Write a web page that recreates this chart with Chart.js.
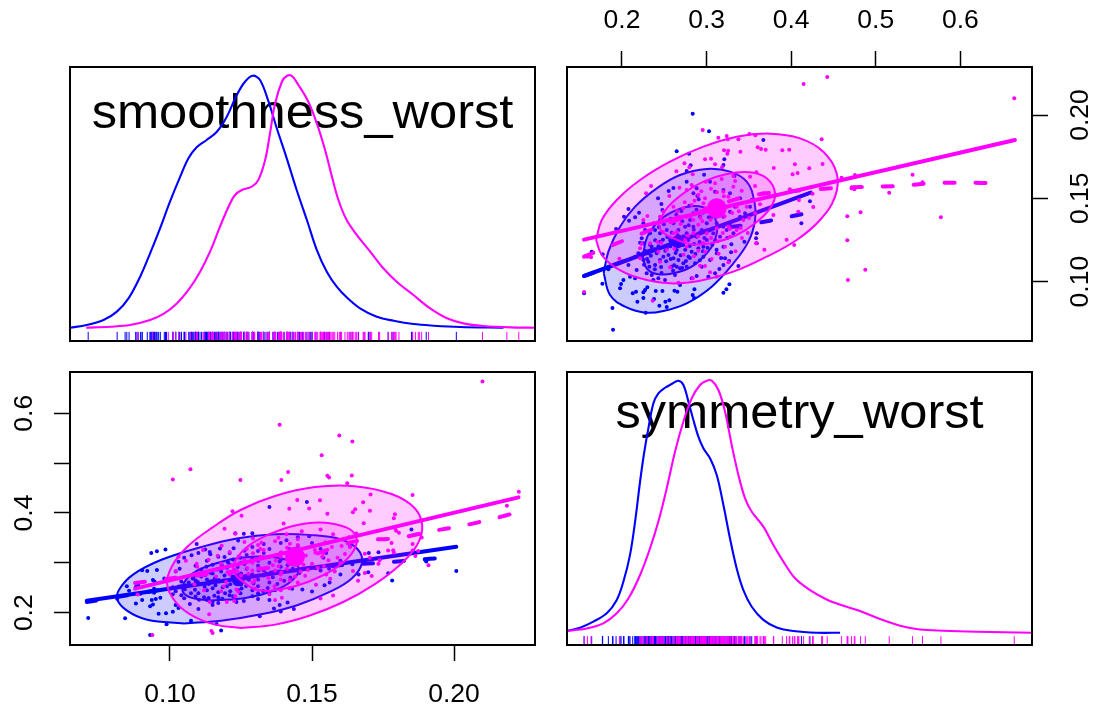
<!DOCTYPE html>
<html>
<head>
<meta charset="utf-8">
<style>
  html, body { margin: 0; background: #fff; }
  canvas { position: absolute; left: 0; top: 0; }
</style>
<script src="https://cdn.jsdelivr.net/npm/chart.js@4"></script>
</head>
<body>
<canvas id="panelTL" width="1094" height="709"></canvas>
<canvas id="panelTR" width="1094" height="709"></canvas>
<canvas id="panelBL" width="1094" height="709"></canvas>
<canvas id="panelBR" width="1094" height="709"></canvas>
<script>
// tick values
const smoothTicks = [0.10, 0.15, 0.20];
const symTicks = [0.2, 0.3, 0.4, 0.5, 0.6];
const symLeftLabelled = [0.2, 0.4, 0.6];

// observations, group 1 (blue)
const blueSym = [.2836,.3029,.3671,.2647,.2793,.321,.3199,.2812,.2765,.297,.3329,.2765,.2608,.2552,.2426,.2076,.2202,.2024,.2084,.193,.2253,.2155,.2466,.2478,.2844,.2891,.2907,.1642,.1772,.1839,.1768,.1552,.2017,.1989,.1977,.2166,.2127,.23,.2273,.2253,.2399,.2478,.262,.2655,.2856,.2836,.2182,.2253,.2379,.2442,.2529,.2513,.256,.2852,.3199,.327,.3234,.1887,.1894,.228,.3376,.3593,.3585,.3593,.3447,.3293,.3289,.3218,.3199,.3151,.3266,.4121,.4222,
  .2253,.2233,.2214,.2312,.2352,.245,.2529,.2549,.2608,.2667,.245,.2391,.2324,.2292,.2352,.243,.2509,.2627,.2686,.2726,.2785,.2824,.2903,.2962,.3002,.308,.3041,.312,.3199,.3277,.3337,.3396,.3455,.3514,.3534,.3396,.3277,.3199,.31,.3041,.2883,.2844,.2805,.2746,.2667,.2608,.2529,.245,.2391,.2332,.2273,.2194,.2155,.2076,.2095,.2174,.2253,.2411,.2489,.2588,.2647,.2726,.2785,.2883,.2943,.3002,.3061,.2923,.2844,.2765,.2686,.2568,.245,.3159,.3238,.3317,.3376,.3277,.3199,.2962,.3041,.312,.3199,.31,.3021,.2883,.2824,.2686,.2371,.2155,.2312,.2214,.2647,.2765,.2864,.2943,
  .2512,.2571,.2634,.2693,.2748,.2801,.2852,.2917,.2975,.2701,.2659,.2588,.2536,.2484,.2431,.2388,.2342,.2297,.2261,.2388,.2462,.2522,.2576,.2617,.2712,.2756,.2803,.2868,.2921,.2958,.3012,.3068,.3103,.2849,.2788,.2713,.2642,.2574,.2495,.2437,.3027,.2958,.2881,.2796,.2702,.3118,.3172,.2392,.2332,.2278,.3244,.2604,.2468,.2728];
const blueSmooth = [.2008,.1902,.185,.1782,.1768,.1734,.17,.1698,.1664,.1642,.1634,.16,.1562,.1544,.15,.1436,.1414,.139,.1366,.1316,.135,.1386,.1466,.143,.153,.1514,.1494,.118,.1164,.1074,.0988,.093,.101,.0986,.096,.094,.093,.0966,.095,.0936,.0944,.0944,.0946,.094,.0954,.092,.088,.0902,.0896,.0856,.0848,.088,.0888,.0902,.0934,.0984,.0954,.0842,.0712,.0814,.1094,.129,.126,.123,.124,.1224,.1176,.114,.11,.1076,.1124,.135,.1482,
  .123,.126,.1234,.117,.121,.124,.12,.116,.114,.113,.113,.11,.109,.105,.104,.102,.101,.104,.108,.111,.115,.118,.12,.121,.125,.129,.131,.135,.139,.142,.145,.139,.141,.145,.149,.15,.153,.155,.154,.16,.156,.141,.137,.133,.131,.135,.131,.137,.131,.129,.131,.117,.115,.11,.103,.107,.113,.117,.115,.109,.119,.122,.125,.127,.131,.135,.139,.139,.133,.129,.127,.125,.129,.127,.131,.129,.133,.135,.133,.115,.113,.117,.121,.105,.103,.1034,.102,.098,.101,.102,.112,.115,.109,.109,.111,.109,
  .1186,.1212,.1172,.1158,.1192,.1214,.1226,.1238,.1262,.1246,.1278,.1294,.1268,.1252,.1212,.1194,.1156,.1136,.1102,.1074,.1088,.1122,.1136,.1098,.1082,.1124,.1142,.1166,.1128,.1182,.1204,.1222,.1248,.1312,.1338,.1362,.1402,.1378,.1344,.1328,.1386,.1414,.1432,.1456,.1424,.1192,.1142,.1248,.1222,.1184,.1262,.1066,.1052,.1272];

// observations, group 2 (magenta)
const pinkSym = [.4147,.4426,.6637,.436,.4044,.4371,.4214,.4076,.4017,.4596,.4754,.5435,.5553,.4714,.4746,.5159,.4253,.3985,.4092,.4261,.4084,.482,.4663,.577,.4663,.3946,.4036,.4876,.4671,.3895,.3977,
  .2954,.3139,.3238,.325,.3376,.3506,.3577,.3604,.3644,.3699,.3206,.3254,.3246,.34,.2982,.3053,.31,.2738,.2797,.2643,.2836,.3183,.3794,.3589,.3317,.3514,.3337,.3573,.2679,.2344,.2285,.256,.2765,.2824,.299,.31,.3179,.3683,.3585,.3632,.379,.3671,.3415,.3258,.3199,.3317,.2982,.2903,.2962,.2824,.2726,.2608,.2489,.245,.2371,.23,.2253,.2667,.2765,.2844,.293,.3021,.312,.3238,.3356,.3474,.3573,.3435,.3356,.3258,.312,.3002,.2844,.2746,.2608,.2466,.2332,.2233,.2214,.243,.2529,.1969,.1552,.1634,.1591,.2765,.2903,.2982,.3061,.2923,.2982,.3041,.312,.3258,.3218,.3277,.2836,.2667,.2363,.245,.2568,.2214,.2418,
  .2902,.2951,.3048,.3082,.3164,.3214,.3302,.3381,.3146,.3068,.2986,.2882,.2808,.2694,.2648,.2782,.2898,.2962,.3052,.3132,.3192,.3278,.3404,.3502,.3204,.3122,.3052,.2938,.2858,.2742,.2652,.2532,.2482,.2852,.2728,.2618,.3142,.3342,.3418,.3486];
const pinkSmooth = [.2186,.2228,.21,.1854,.1704,.1706,.168,.1652,.1644,.1624,.164,.1642,.1596,.156,.1554,.1534,.1528,.1554,.149,.1448,.142,.1416,.1392,.1386,.1248,.1252,.122,.1072,.101,.1788,.1792,
  .191,.1864,.1874,.1854,.1854,.1886,.1878,.1806,.1796,.1792,.1788,.1786,.1768,.178,.1734,.1738,.1704,.171,.1686,.1662,.1644,.1686,.1682,.1656,.1634,.163,.1604,.1574,.1564,.1574,.153,.1514,.155,.158,.16,.159,.1616,.1192,.123,.1464,.14,.153,.1546,.151,.154,.157,.15,.152,.147,.146,.144,.145,.142,.139,.135,.1394,.137,.139,.139,.137,.1382,.142,.139,.145,.145,.145,.141,.137,.131,.133,.132,.129,.129,.125,.129,.1234,.123,.1226,.114,.118,.119,.1138,.0938,.1146,.115,.121,.1186,.118,.1136,.1096,.1094,.1056,.103,.1116,.121,.127,.102,.0994,.0886,.112,.1086,.12,.124,
  .1342,.1362,.1372,.1412,.1432,.1392,.1412,.1422,.1478,.1462,.1442,.1412,.1392,.1346,.1298,.1276,.1272,.1232,.1262,.1242,.1292,.1318,.1322,.1382,.1512,.1536,.1558,.1542,.1486,.1476,.1422,.1368,.1298,.1152,.1162,.1198,.1168,.1182,.1262,.1292];

// group means
const blueMean = { sym: 0.2659, smooth: 0.124 };
const pinkMean = { sym: 0.312, smooth: 0.144 };

// data ellipses (sym, smooth)
const blueOuterSym = [.1784,.1839,.1977,.2155,.2411,.2686,.3002,.3277,.3474,.3561,.3573,.3494,.3317,.3061,.2765,.249,.2273,.2036,.1859];
const blueOuterSmooth = [.105,.118,.133,.145,.156,.164,.1676,.166,.16,.149,.137,.124,.111,.097,.087,.0824,.0814,.085,.092];
const blueInnerSym = [.2245,.23,.245,.2647,.2864,.3021,.312,.31,.3002,.2824,.2608,.2411,.2292];
const blueInnerSmooth = [.115,.127,.137,.143,.1454,.143,.135,.125,.117,.109,.105,.1046,.108];
const pinkOuterSym = [.1694,.1761,.1938,.2214,.2568,.2962,.3356,.375,.4105,.438,.4538,.4519,.4341,.4065,.3711,.3317,.2923,.2568,.2214,.1938,.1761];
const pinkOuterSmooth = [.125,.137,.149,.161,.172,.181,.187,.1888,.186,.178,.165,.151,.137,.125,.115,.106,.1006,.099,.102,.108,.116];
const pinkInnerSym = [.2434,.2529,.2726,.2962,.3238,.3514,.3711,.381,.375,.3573,.3356,.308,.2824,.2608,.247];
const pinkInnerSmooth = [.135,.144,.153,.16,.1646,.1656,.162,.153,.144,.135,.128,.1234,.1224,.126,.13];

// fits, top right panel (x symmetry, y smoothness)
const trBlueFitX = [.1552, .423];
const trBlueFitY = [.1034, .1534];
const trBlueSmoothX = [.1552,.2056,.2647,.304,.3415,.379,.4215];
const trBlueSmoothY = [.1034,.113,.125,.131,.1336,.137,.1414];
const trPinkFitX = [.1552, .6645];
const trPinkFitY = [.1252, .185];
const trPinkSmoothX = [.1552,.1977,.2647,.304,.3435,.3829,.4538,.4852,.5266,.564,.5995,.6487];
const trPinkSmoothY = [.115,.1238,.137,.144,.1508,.1536,.1562,.1568,.1574,.159,.1594,.159];

// fits, bottom left panel (x smoothness, y symmetry)
const blBlueFitX = [.0707, .2008];
const blBlueFitY = [.2241, .3324];
const blBlueSmoothX = [.0707,.095,.1223,.145,.1623,.1734,.1846,.1984];
const blBlueSmoothY = [.2214,.2445,.2696,.287,.2963,.2996,.305,.311];
const blPinkFitX = [.0877, .2227];
const blPinkFitY = [.2482, .4314];
const blPinkSmoothX = [.0877,.1036,.12,.1376,.15,.1652,.1804,.1919,.2031,.2139,.2231];
const blPinkSmoothY = [.2595,.271,.2812,.293,.315,.3431,.3498,.3632,.3745,.3886,.4026];

// density curves
const smoothBlueDensX = [.0648,.0707,.0766,.0813,.0854,.0895,.093,.0965,.1,.1036,.1065,.1094,.1129,.1165,.12,.1235,.1264,.1291,.1317,.1347,.1376,.1411,.1446,.1482,.1517,.1552,.1587,.1622,.1669,.1728,.1787,.1857,.1928,.2021,.2174];
const smoothBlueDensY = [0,.26,.76,1.59,2.91,5.06,7.37,9.85,12.5,14.98,16.8,17.89,18.62,19.44,20.93,23.08,24.4,25,24.57,22.42,19.78,16.8,13.66,10.68,7.7,5.56,4.07,3.01,1.92,1.09,.69,.36,.2,.07,0];
const smoothPinkDensX = [.0705,.0789,.0859,.093,.0977,.1024,.1065,.1106,.1141,.1176,.1206,.1229,.1253,.1288,.1311,.1335,.1352,.137,.1394,.1411,.1429,.1452,.1487,.1517,.1546,.157,.1593,.1622,.1658,.1705,.1751,.1798,.1857,.1916,.1975,.2033,.2104,.2198,.2286];
const smoothPinkDensY = [0,.1,.26,.76,1.36,2.41,3.74,5.56,7.54,10.02,12,13.16,13.66,13.99,14.66,16.63,19.27,22.25,24.4,24.97,24.97,24.08,22.42,20.27,17.63,14.99,12.67,10.68,9.19,7.54,5.89,4.56,3.24,1.91,.93,.43,.17,.03,0];
const symBlueDensX = [.1347,.1504,.1662,.182,.1938,.2017,.2095,.2155,.2214,.2261,.2312,.2371,.243,.2509,.2588,.2667,.2726,.2785,.2844,.2903,.2962,.3041,.312,.3199,.3277,.3356,.3435,.3534,.3671,.3829,.4026,.4302,.4578];
const symBlueDensY = [.07,.2,.44,.77,1.3,2.03,3.09,4.41,6,7.12,8.11,9.1,9.5,9.72,9.87,10,9.83,9.17,8.44,7.78,7.32,6.92,6.26,5.07,3.74,2.55,1.69,1.03,.51,.21,.07,0,0];
const symPinkDensX = [.1347,.1583,.178,.1938,.2076,.2214,.2332,.243,.2529,.2627,.2726,.2824,.2923,.3002,.3061,.314,.3218,.3297,.3376,.3455,.3534,.3671,.379,.3908,.4046,.4223,.442,.4617,.4814,.505,.5287,.5523,.5799,.6193,.6843];
const symPinkDensY = [.07,.17,.37,.77,1.36,2.29,3.35,4.41,5.73,7.18,8.38,9.3,9.83,10,10,9.63,8.78,7.45,6.26,5.33,4.8,4.21,3.48,2.82,2.16,1.69,1.32,1.07,.86,.54,.28,.13,.08,.04,0];

const BLUE = '#0000ff';
const PINK = '#ff00ff';
const BLUE_FILL = 'rgba(0,0,255,0.2)';
const PINK_FILL = 'rgba(255,0,255,0.2)';
const AXIS_FONT = { family: '"Liberation Sans", Arial, sans-serif', size: 26.5 };

// axis ranges of the R plot regions
const smoothRangeX = { min: 0.0648, max: 0.2285 };
const smoothRangeY = { min: 0.0644, max: 0.2288 };
const symRangeX = { min: 0.135, max: 0.6847 };
const symRangeY = { min: 0.1352, max: 0.6828 };

const toPoints = (xs, ys) => xs.map((x, i) => ({ x: x, y: ys[i] }));

const pointSet = (xs, ys, color) => ({
  data: toPoints(xs, ys), showLine: false, pointRadius: 2, pointBorderWidth: 0, pointBackgroundColor: color
});

const meanDot = (x, y, color, radius) => ({
  data: [{ x: x, y: y }], showLine: false, pointRadius: radius, pointBorderWidth: 0, pointBackgroundColor: color
});

const solidFit = (xs, ys, color) => ({
  data: toPoints(xs, ys), borderColor: color, borderWidth: 4, pointRadius: 0, borderCapStyle: 'round'
});

const dashedFit = (xs, ys, color) => ({
  data: toPoints(xs, ys), borderColor: color, borderWidth: 4, pointRadius: 0, tension: 0.3,
  borderDash: [10, 21], borderCapStyle: 'round'
});

const ellipse = (xs, ys, color, fill) => ({
  data: toPoints(xs.concat(xs[0]), ys.concat(ys[0])), borderColor: color, borderWidth: 2, pointRadius: 0,
  tension: 0.4, fill: 'shape', backgroundColor: fill
});

const densityLine = (xs, ys, color) => ({
  data: toPoints(xs, ys), borderColor: color, borderWidth: 2.1, pointRadius: 0, tension: 0.35
});

const rug = (xs, y, color) => ({
  data: xs.map(x => ({ x: x, y: y })), showLine: false, pointStyle: 'line', pointRotation: 90,
  pointRadius: 4.6, pointBorderWidth: 1, pointBorderColor: color, clip: false
});

const panelFrame = (title, baseline) => ({
  id: 'panelFrame',
  beforeDatasetsDraw(chart) {
    if (!title) return;
    const ctx = chart.ctx;
    const area = chart.chartArea;
    ctx.save();
    // the reference is a little wider than tall, so stretch the title the same way
    ctx.translate((area.left + area.right) / 2, baseline);
    ctx.scale(1.065, 1);
    ctx.font = '47.5px "Liberation Sans", Arial, sans-serif';
    ctx.fillStyle = '#000';
    ctx.textAlign = 'center';
    ctx.textBaseline = 'alphabetic';
    ctx.fillText(title, 0, 0);
    ctx.restore();
  },
  afterDraw(chart) {
    const ctx = chart.ctx;
    const area = chart.chartArea;
    ctx.save();
    ctx.strokeStyle = '#000';
    ctx.lineWidth = 2;
    ctx.strokeRect(area.left, area.top, area.right - area.left, area.bottom - area.top);
    ctx.restore();
  }
});

// hidden axis, only used to place the marks
const hiddenAxis = range => ({ type: 'linear', display: false, min: range.min, max: range.max });

const shownAxis = (range, position, tickValues, format, size, padding) => {
  const vertical = position === 'left' || position === 'right';
  return {
    type: 'linear', position: position, min: range.min, max: range.max,
    grid: { drawOnChartArea: false, tickLength: 16, tickColor: '#000', tickWidth: 1.5 },
    border: { display: false },
    afterBuildTicks: scale => { scale.ticks = tickValues.map(v => ({ value: v })); },
    afterFit: scale => { if (vertical) scale.width = size; else scale.height = size; },
    ticks: {
      color: '#000', font: AXIS_FONT, autoSkip: false, padding: padding, callback: format,
      minRotation: vertical ? 90 : 0, maxRotation: vertical ? 90 : 0, crossAlign: vertical ? 'center' : 'near'
    }
  };
};

const makePanel = (id, datasets, scales, padding, title, baseline) => new Chart(document.getElementById(id), {
  type: 'line',
  // painter's order: first listed ends up at the bottom
  data: { datasets: datasets.slice().reverse() },
  options: {
    responsive: false,
    animation: false,
    layout: { padding: padding },
    scales: scales,
    plugins: { legend: { display: false }, tooltip: { enabled: false } }
  },
  plugins: [panelFrame(title, baseline)]
});

// smoothness_worst density
makePanel('panelTL', [
  rug(blueSmooth, -0.87, BLUE),
  rug(pinkSmooth, -0.87, PINK),
  densityLine(smoothBlueDensX, smoothBlueDensY, BLUE),
  densityLine(smoothPinkDensX, smoothPinkDensY, PINK)
], {
  x: hiddenAxis(smoothRangeX),
  y: hiddenAxis({ min: -1.32, max: 25.86 })
}, { left: 70, top: 67, right: 559, bottom: 368 }, 'smoothness_worst', 127.5);

// symmetry on x, smoothness on y
makePanel('panelTR', [
  pointSet(blueSym, blueSmooth, BLUE),
  solidFit(trBlueFitX, trBlueFitY, BLUE),
  dashedFit(trBlueSmoothX, trBlueSmoothY, BLUE),
  meanDot(blueMean.sym, blueMean.smooth, BLUE, 6.5),
  ellipse(blueOuterSym, blueOuterSmooth, BLUE, BLUE_FILL),
  ellipse(blueInnerSym, blueInnerSmooth, BLUE, BLUE_FILL),
  pointSet(pinkSym, pinkSmooth, PINK),
  solidFit(trPinkFitX, trPinkFitY, PINK),
  dashedFit(trPinkSmoothX, trPinkSmoothY, PINK),
  meanDot(pinkMean.sym, pinkMean.smooth, PINK, 10),
  ellipse(pinkOuterSym, pinkOuterSmooth, PINK, PINK_FILL),
  ellipse(pinkInnerSym, pinkInnerSmooth, PINK, PINK_FILL)
], {
  x: shownAxis(symRangeX, 'top', symTicks, v => v.toFixed(1), 67, 14),
  y: shownAxis(smoothRangeY, 'right', smoothTicks, v => v.toFixed(2), 60, 7)
}, { left: 567, top: 0, right: 2, bottom: 368 });

// smoothness on x, symmetry on y
makePanel('panelBL', [
  pointSet(blueSmooth, blueSym, BLUE),
  solidFit(blBlueFitX, blBlueFitY, BLUE),
  dashedFit(blBlueSmoothX, blBlueSmoothY, BLUE),
  meanDot(blueMean.smooth, blueMean.sym, BLUE, 6.5),
  ellipse(blueOuterSmooth, blueOuterSym, BLUE, BLUE_FILL),
  ellipse(blueInnerSmooth, blueInnerSym, BLUE, BLUE_FILL),
  pointSet(pinkSmooth, pinkSym, PINK),
  solidFit(blPinkFitX, blPinkFitY, PINK),
  dashedFit(blPinkSmoothX, blPinkSmoothY, PINK),
  meanDot(pinkMean.smooth, pinkMean.sym, PINK, 10),
  ellipse(pinkOuterSmooth, pinkOuterSym, PINK, PINK_FILL),
  ellipse(pinkInnerSmooth, pinkInnerSym, PINK, PINK_FILL)
], {
  x: shownAxis(smoothRangeX, 'bottom', smoothTicks, v => v.toFixed(2), 60, 18),
  y: shownAxis(symRangeY, 'left', symTicks, v => symLeftLabelled.includes(v) ? v.toFixed(1) : '', 60, 11)
}, { left: 10, top: 372, right: 559, bottom: 4 });

// symmetry_worst density
makePanel('panelBR', [
  rug(blueSym, -0.32, BLUE),
  rug(pinkSym, -0.32, PINK),
  densityLine(symBlueDensX, symBlueDensY, BLUE),
  densityLine(symPinkDensX, symPinkDensY, PINK)
], {
  x: hiddenAxis(symRangeX),
  y: hiddenAxis({ min: -0.488, max: 10.345 })
}, { left: 567, top: 372, right: 62, bottom: 64 }, 'symmetry_worst', 428);
</script>
</body>
</html>
